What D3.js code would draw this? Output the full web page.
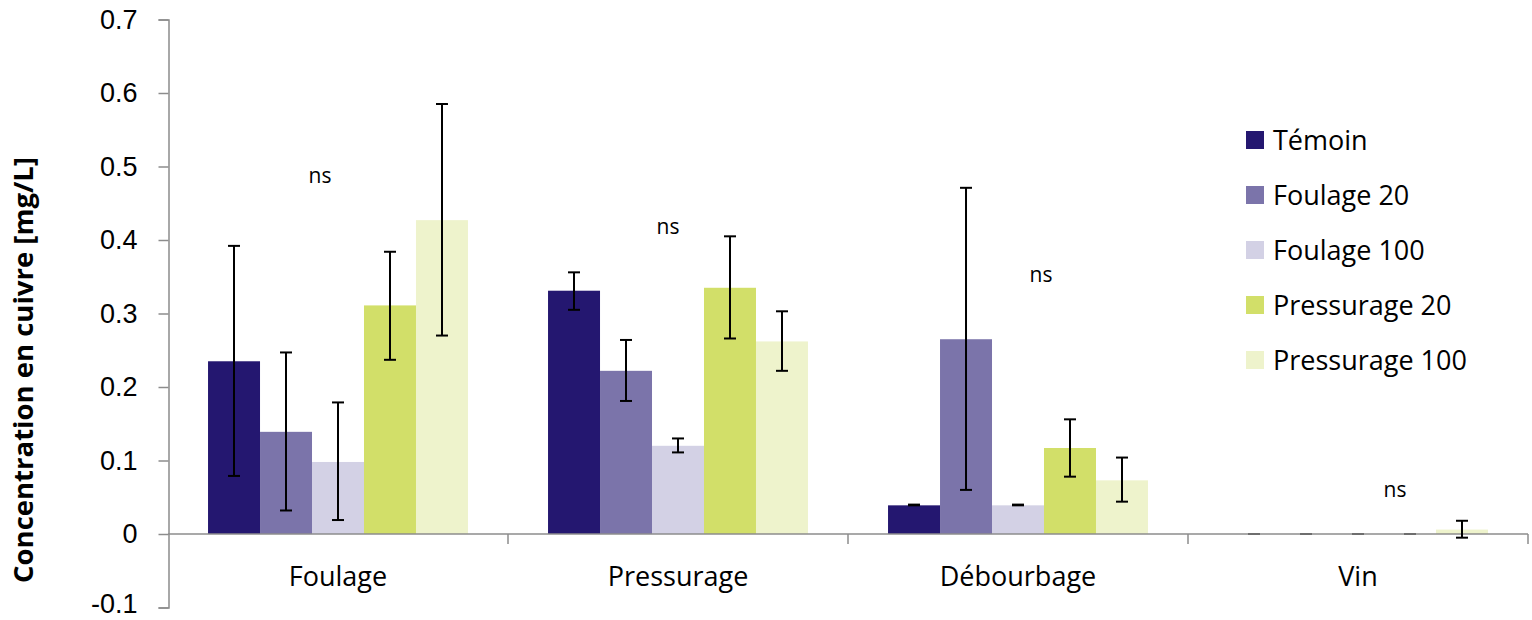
<!DOCTYPE html>
<html>
<head>
<meta charset="utf-8">
<script src="https://cdn.jsdelivr.net/npm/d3@7"></script>
<style>
  html, body { margin: 0; padding: 0; background: #fff; }
  svg { display: block; font-family: "Open Sans", Lato, sans-serif; }
</style>
</head>
<body>
<svg id="chart" width="1532" height="620"></svg>
<script>
// Copper concentration by winemaking stage and treatment
const categories = ["Foulage", "Pressurage", "Débourbage", "Vin"];
const series = ["Témoin", "Foulage 20", "Foulage 100", "Pressurage 20", "Pressurage 100"];
const colors = ["#241770", "#7B74AA", "#D3D1E5", "#D2DF69", "#EEF3CC"];

// mean values per series, one entry per category
const temoin        = [0.235, 0.331, 0.039, 0.0];
const foulage20     = [0.139, 0.222, 0.265, 0.0];
const foulage100    = [0.098, 0.120, 0.039, 0.0];
const pressurage20  = [0.311, 0.335, 0.117, 0.0];
const pressurage100 = [0.427, 0.262, 0.073, 0.006];

// error bar bounds (low, high)
const temoinErr        = [[0.079, 0.392], [0.305, 0.356], [0.039, 0.040], [0, 0]];
const foulage20Err     = [[0.032, 0.247], [0.181, 0.264], [0.060, 0.471], [0, 0]];
const foulage100Err    = [[0.019, 0.179], [0.111, 0.130], [0.039, 0.040], [0, 0]];
const pressurage20Err  = [[0.237, 0.384], [0.266, 0.405], [0.078, 0.156], [0, 0]];
const pressurage100Err = [[0.270, 0.585], [0.222, 0.303], [0.044, 0.104], [-0.005, 0.018]];

const yTicks = [-0.1, 0, 0.1, 0.2, 0.3, 0.4, 0.5, 0.6, 0.7];
const sigLabels = ["ns", "ns", "ns", "ns"];
const sigHeights = [0.477, 0.408, 0.343, 0.050];
const sigOffsets = [-18, -10, 23, 37];

const values = [temoin, foulage20, foulage100, pressurage20, pressurage100];
const errors = [temoinErr, foulage20Err, foulage100Err, pressurage20Err, pressurage100Err];

const svg = d3.select("#chart");
const axisColor = "#8c8c8c";
const left = 168, right = 1528;

const y = d3.scaleLinear().domain([-0.1, 0.7]).range([607.5, 19.5]);
const x0 = d3.scaleBand().domain(categories).range([left, right]).paddingInner(0).paddingOuter(0);
const x1 = d3.scaleBand().domain(series).range([0, x0.bandwidth()]).paddingInner(0).paddingOuter(0.77);

// y axis
const yAxis = svg.append("g").attr("transform", `translate(${left + 0.5},0)`)
  .call(d3.axisLeft(y).tickValues(yTicks).tickSize(10).tickPadding(21)
    .tickFormat(d => String(d)));
yAxis.select(".domain").attr("stroke", axisColor).attr("stroke-width", 1.5);
yAxis.selectAll(".tick line").attr("stroke", axisColor).attr("stroke-width", 1.5);
yAxis.selectAll(".tick text").attr("fill", "#000").style("font-size", "27px");
// keep the lowest label inside the canvas
yAxis.selectAll(".tick text").filter(d => d === -0.1).attr("dy", "0.2em");

// bars
const groups = svg.append("g").selectAll("g")
  .data(series.map((s, i) => ({ name: s, color: colors[i], vals: values[i] })))
  .join("g");

groups.selectAll("rect")
  .data(d => categories.map((c, j) => ({ cat: c, v: d.vals[j], name: d.name, color: d.color })))
  .join("rect")
  .attr("x", d => x0(d.cat) + x1(d.name))
  .attr("width", x1.bandwidth())
  .attr("y", d => y(Math.max(0, d.v)))
  .attr("height", d => Math.abs(y(d.v) - y(0)))
  .attr("fill", d => d.color);

// x axis (line at zero with category separators)
const xAxisY = y(0);
svg.append("line").attr("x1", left).attr("x2", right).attr("y1", xAxisY).attr("y2", xAxisY)
  .attr("stroke", axisColor).attr("stroke-width", 1.5);
const bounds = categories.map(c => x0(c) + x0.bandwidth());
svg.append("g").selectAll("line").data(bounds).join("line")
  .attr("x1", d => d).attr("x2", d => d)
  .attr("y1", xAxisY).attr("y2", xAxisY + 10)
  .attr("stroke", axisColor).attr("stroke-width", 1.5);
svg.append("g").selectAll("text").data(categories).join("text")
  .attr("x", d => x0(d) + x0.bandwidth() / 2)
  .attr("y", 586)
  .attr("text-anchor", "middle")
  .style("font-size", "27px")
  .text(d => d);

// error bars
const capW = 12;
const errG = svg.append("g").attr("stroke", "#000").attr("stroke-width", 2);
series.forEach((s, i) => {
  categories.forEach((c, j) => {
    const [lo, hi] = errors[i][j];
    const cx = x0(c) + x1(s) + x1.bandwidth() / 2;
    const g = errG.append("g");
    if (hi - lo > 0.002) {
      g.append("line").attr("x1", cx).attr("x2", cx).attr("y1", y(lo)).attr("y2", y(hi));
    }
    const isZero = hi === 0 && lo === 0;
    [lo, hi].forEach(v => {
      g.append("line").attr("x1", cx - capW / 2).attr("x2", cx + capW / 2)
        .attr("y1", y(v)).attr("y2", y(v))
        .attr("stroke", isZero ? "#6e6e6e" : "#000");
    });
  });
});

// significance labels
svg.append("g").selectAll("text").data(categories).join("text")
  .attr("x", (d, j) => x0(d) + x0.bandwidth() / 2 + sigOffsets[j])
  .attr("y", (d, j) => y(sigHeights[j]))
  .attr("text-anchor", "middle")
  .style("font-size", "21px")
  .text((d, j) => sigLabels[j]);

// y axis title
svg.append("text")
  .attr("transform", "translate(33,370) rotate(-90)")
  .attr("text-anchor", "middle")
  .style("font-size", "27.5px")
  .style("font-weight", "bold")
  .text("Concentration en cuivre [mg/L]");

// legend
const legend = svg.append("g").attr("transform", "translate(1246,131)");
const li = legend.selectAll("g").data(series).join("g")
  .attr("transform", (d, i) => `translate(0,${i * 55})`);
li.append("rect").attr("width", 18).attr("height", 18).attr("fill", (d, i) => colors[i]);
li.append("text").attr("x", 27).attr("y", 9).attr("dy", "0.36em")
  .style("font-size", "27px").text(d => d);
</script>
</body>
</html>
